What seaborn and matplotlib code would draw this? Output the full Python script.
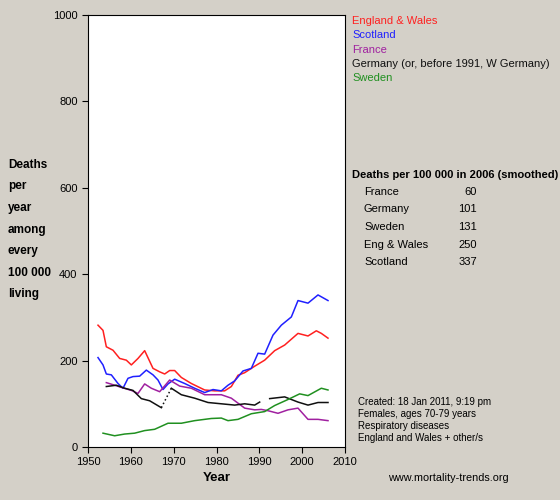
import matplotlib
matplotlib.use("Agg")
import matplotlib.pyplot as plt
import seaborn as sns
import numpy as np
import pandas as pd

plt.rcParams['font.family'] = ['Liberation Sans', 'DejaVu Sans']

def yrs(zx):
    return [1950 + z / 12.85 for z in zx]

ew_zx = [30,45,55,75,95,115,130,150,170,195,215,230,245,260,280,310,350,380,410,430,450,470,500,530,560,590,630,660,685,700,720]
ew_val = [282,270,232,224,205,201,190,205,223,182,174,169,177,177,161,147,132,130,130,140,166,172,187,201,223,236,263,257,269,263,252]
sc_zx = [30,45,55,70,90,105,120,135,155,175,195,210,225,240,260,290,320,350,375,400,420,440,465,490,510,530,555,580,610,630,660,690,720]
sc_val = [207,190,169,167,147,136,159,163,164,178,167,155,133,146,157,147,136,126,133,130,143,153,176,182,217,215,259,282,301,339,333,352,339]
fr_zx = [55,80,100,130,150,170,190,215,245,275,310,350,400,430,470,500,520,540,570,600,630,660,690,720]
fr_val = [149,143,138,131,124,146,136,128,155,141,136,121,121,113,90,86,87,84,78,86,90,64,64,61]
de_zx = [55,85,110,135,160,185,220,250,280,320,360,400,440,470,500,515,530,545,590,630,660,690,720]
de_val = [140,143,136,131,112,107,91,136,121,113,103,100,97,100,97,104,np.nan,112,116,104,97,103,103]
se_zx = [45,80,110,140,170,200,240,280,320,370,400,420,450,490,530,560,600,635,660,700,720]
se_val = [32,26,30,32,38,41,55,55,61,66,67,61,64,77,82,96,110,123,119,136,132]

series = [("England & Wales", ew_zx, ew_val, "#ff2020"),
          ("Scotland", sc_zx, sc_val, "#2020ff"),
          ("France", fr_zx, fr_val, "#a020a0"),
          ("Germany (or, before 1991, W Germany)", de_zx, de_val, "#101010"),
          ("Sweden", se_zx, se_val, "#209020")]

bg = "#d4d0c8"
fig = plt.figure(figsize=(5.6, 5.0), dpi=100, facecolor=bg)
ax = fig.add_axes([88/560, 53/500, 257/560, 432/500])
ax.set_facecolor("white")
for name, zx, val, c in series:
    x = yrs(zx)
    if "Germany" in name:
        sns.lineplot(x=x[:7], y=val[:7], color=c, lw=1.1, ax=ax)
        sns.lineplot(x=x[6:8], y=val[6:8], color=c, lw=1.1, ls=":", ax=ax)
        sns.lineplot(x=x[7:16], y=val[7:16], color=c, lw=1.1, ax=ax)
        sns.lineplot(x=x[17:], y=val[17:], color=c, lw=1.1, ax=ax)
    else:
        sns.lineplot(x=x, y=val, color=c, lw=1.1, ax=ax)
ax.set_xlim(1950, 2010)
ax.set_ylim(0, 1000)
ax.set_xticks(range(1950, 2011, 10))
ax.set_yticks(range(0, 1001, 200))
ax.tick_params(labelsize=8, length=4)
ax.set_xlabel("Year", fontsize=9.5, fontweight="bold", labelpad=3)
for s in ax.spines.values():
    s.set_color("black")

ylines = ["Deaths", "per", "year", "among", "every", "100 000", "living"]
for i, t in enumerate(ylines):
    fig.text(8/560, 1 - (165 + i * 21.5)/500, t, fontsize=8.5, fontweight="bold", va="center")

ly = 21
for name, _, _, c in series:
    fig.text(352/560, 1 - ly/500, name, color=c, fontsize=8, va="center")
    ly += 14.3

fig.text(352/560, 1 - 175/500, "Deaths per 100 000 in 2006 (smoothed)", fontsize=8,
         fontweight="bold", va="center")
tab_names = ["France", "Germany", "Sweden", "Eng & Wales", "Scotland"]
tab_vals = ["60", "101", "131", "250", "337"]
ty = 192
for n, v in zip(tab_names, tab_vals):
    fig.text(364/560, 1 - ty/500, n, fontsize=8, va="center")
    fig.text(477/560, 1 - ty/500, v, fontsize=8, va="center", ha="right")
    ty += 17.5

foot = ["Created: 18 Jan 2011, 9:19 pm", "Females, ages 70-79 years",
        "Respiratory diseases", "England and Wales + other/s"]
fy = 402
for f in foot:
    fig.text(358/560, 1 - fy/500, f, fontsize=7, va="center")
    fy += 12
fig.text(388/560, 1 - 478/500, "www.mortality-trends.org", fontsize=7.8, va="center")

fig.savefig("out.png", dpi=100, facecolor=bg)
